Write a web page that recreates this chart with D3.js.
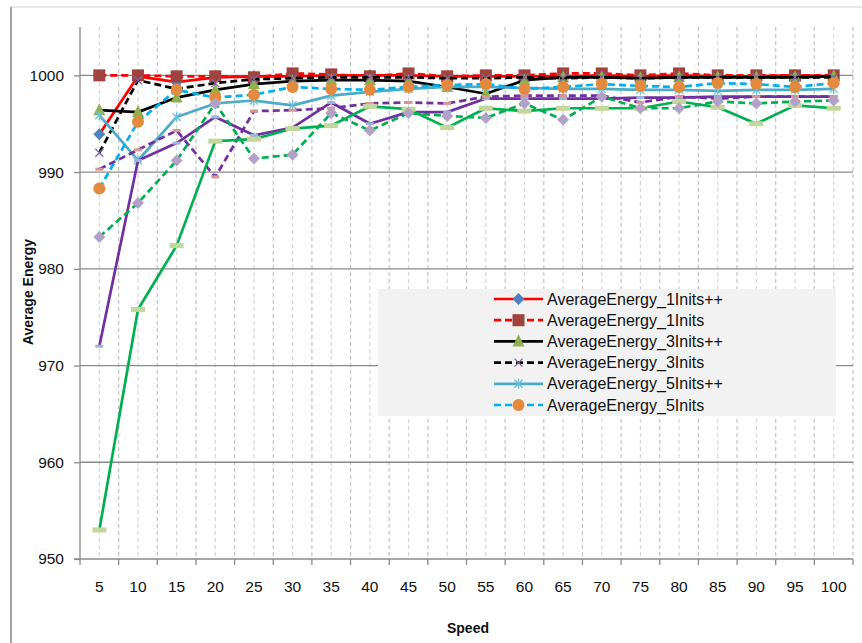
<!DOCTYPE html>
<html>
<head>
<meta charset="utf-8">
<script src="https://cdn.jsdelivr.net/npm/d3@7"></script>
<style>
  html, body { margin: 0; padding: 0; background: #fff; }
  svg { display: block; font-family: "Liberation Sans", Arial, sans-serif; }
</style>
</head>
<body>
<svg id="chart" width="862" height="643"></svg>
<script>
const categories = ["5","10","15","20","25","30","35","40","45","50","55","60","65","70","75","80","85","90","95","100"];
const yTicks = [950, 960, 970, 980, 990, 1000];

const energy1InitsPP = [993.9, 999.9, 999.3, 999.8, 999.9, 999.9, 1000, 1000, 1000, 999.9, 999.9, 999.9, 999.9, 1000, 999.9, 1000, 999.9, 999.9, 1000, 999.9];
const energy1Inits   = [1000, 1000, 999.9, 999.9, 999.8, 1000.2, 1000.1, 999.9, 1000.2, 999.9, 1000, 1000, 1000.2, 1000.2, 1000, 1000.2, 1000, 1000, 1000, 1000];
const energy3InitsPP = [996.4, 996.2, 997.7, 998.5, 999.1, 999.4, 999.5, 999.5, 999.4, 998.8, 998.1, 999.5, 999.8, 999.8, 999.7, 999.8, 999.8, 999.8, 999.8, 999.9];
const energy3Inits   = [992.0, 999.5, 998.6, 999.2, 999.6, 999.7, 999.8, 999.8, 999.8, 999.7, 999.7, 999.8, 999.7, 999.8, 999.7, 999.8, 999.8, 999.8, 999.8, 999.8];
const energy5InitsPP = [995.9, 991.2, 995.7, 997.1, 997.4, 996.9, 997.9, 998.3, 998.6, 998.8, 998.8, 998.7, 998.6, 998.6, 998.5, 998.5, 998.4, 998.5, 998.5, 998.6];
const energy5Inits   = [988.3, 995.2, 998.5, 997.7, 998.0, 998.8, 998.6, 998.5, 998.8, 999.0, 999.1, 998.6, 998.8, 999.1, 998.9, 998.8, 999.2, 999.1, 998.8, 999.2];
const energyPurpleSolid  = [972.0, 991.2, 993.0, 995.7, 993.8, 994.6, 997.2, 995.0, 996.2, 996.2, 997.6, 997.6, 997.6, 997.6, 997.7, 997.7, 997.8, 997.8, 997.8, 997.8];
const energyPurpleDashed = [990.3, 992.3, 994.3, 989.5, 996.3, 996.4, 996.6, 997.1, 997.2, 997.1, 997.8, 997.9, 997.9, 997.9, 997.2, 997.8, 997.6, 997.8, 997.8, 997.8];
const energyGreenSolid   = [953.0, 975.8, 982.4, 993.2, 993.4, 994.5, 994.8, 996.8, 996.5, 994.6, 996.6, 996.3, 996.6, 996.6, 996.6, 997.3, 996.7, 995.0, 996.9, 996.6];
const energyGreenDashed  = [983.3, 986.8, 991.2, 997.1, 991.4, 991.8, 996.1, 994.3, 996.1, 995.8, 995.6, 997.1, 995.4, 997.8, 996.6, 996.6, 997.3, 997.1, 997.3, 997.4];

const seriesNames = ["AverageEnergy_1Inits++", "AverageEnergy_1Inits", "AverageEnergy_3Inits++", "AverageEnergy_3Inits", "AverageEnergy_5Inits++", "AverageEnergy_5Inits", "", "", "", ""];

const series = [
  { name: seriesNames[0], values: energy1InitsPP, line: "#FF0000", dash: null, marker: "diamond", mcolor: "#4F81BD", legend: true },
  { name: seriesNames[1], values: energy1Inits, line: "#FF0000", dash: "7,4", marker: "square", mcolor: "#A0423E", legend: true },
  { name: seriesNames[2], values: energy3InitsPP, line: "#000000", dash: null, marker: "triangle", mcolor: "#8FB04E", legend: true },
  { name: seriesNames[3], values: energy3Inits, line: "#000000", dash: "7,4", marker: "x", mcolor: "#8064A2", legend: true },
  { name: seriesNames[4], values: energy5InitsPP, line: "#4BACC6", dash: null, marker: "star", mcolor: "#6FC0D8", legend: true },
  { name: seriesNames[5], values: energy5Inits, line: "#00B0F0", dash: "7,4", marker: "circle", mcolor: "#E38A3E", legend: true },
  { name: seriesNames[6], values: energyPurpleSolid, line: "#7030A0", dash: null, marker: "dash", mcolor: "#9BB7D4", legend: false },
  { name: seriesNames[7], values: energyPurpleDashed, line: "#7030A0", dash: "7,4", marker: "dash", mcolor: "#D99694", legend: false },
  { name: seriesNames[8], values: energyGreenSolid, line: "#00B050", dash: null, marker: "bar", mcolor: "#C3D69B", legend: false },
  { name: seriesNames[9], values: energyGreenDashed, line: "#00B050", dash: "7,4", marker: "diamond", mcolor: "#B3A2C7", legend: false }
];

const svg = d3.select("#chart");
const L = 80, R = 853, T = 27, B = 559;

const x = d3.scaleBand().domain(categories).range([L, R]).padding(0);
const y = d3.scaleLinear().domain([950, 1005]).range([B, T]);
const cx = c => x(c) + x.bandwidth() / 2;

// outer frame
svg.append("rect").attr("x", 11).attr("y", 7).attr("width", 880).attr("height", 660)
  .attr("fill", "none").attr("stroke", "#cfcfcf").attr("stroke-width", 1);
svg.append("line").attr("x1", 11).attr("x2", 11).attr("y1", 7).attr("y2", 643)
  .attr("stroke", "#a6a6a6").attr("stroke-width", 2);

// vertical dashed gridlines at category centers and boundaries
const g = svg.append("g");
categories.forEach((c, i) => {
  g.append("line").attr("x1", cx(c)).attr("x2", cx(c)).attr("y1", T).attr("y2", B)
    .attr("stroke", "#d6d6d6").attr("stroke-dasharray", "4,3").attr("stroke-width", 1.2);
  const bx = x(c) + x.bandwidth();
  g.append("line").attr("x1", bx).attr("x2", bx).attr("y1", T).attr("y2", B)
    .attr("stroke", "#c4c4c4").attr("stroke-dasharray", "4,3").attr("stroke-width", 1.2);
});

// horizontal gridlines
yTicks.filter(v => v > 950).forEach(v => {
  g.append("line").attr("x1", L).attr("x2", R).attr("y1", y(v)).attr("y2", y(v))
    .attr("stroke", "#8a8a8a").attr("stroke-width", 1.3);
});

// Y axis
const yAxis = d3.axisLeft(y).tickValues(yTicks).tickSize(6).tickPadding(10).tickFormat(d3.format("d"));
const ya = svg.append("g").attr("transform", `translate(${L},0)`).call(yAxis);
ya.select(".domain").attr("stroke", "#8a8a8a").attr("stroke-width", 1.3).attr("d", `M-6,${B}H0V${T}`);
ya.selectAll(".tick line").attr("stroke", "#8a8a8a").attr("stroke-width", 1.3);
ya.selectAll(".tick text").attr("font-size", 15.5).attr("fill", "#111").attr("font-family", "Liberation Sans, Arial, sans-serif");

// X axis
const xAxis = d3.axisBottom(x).tickSize(0).tickPadding(22);
const xa = svg.append("g").attr("transform", `translate(0,${B})`).call(xAxis);
xa.select(".domain").attr("stroke", "#8a8a8a").attr("stroke-width", 1.3).attr("d", `M${L},0H${R}`);
xa.selectAll(".tick text").attr("font-size", 15.5).attr("fill", "#111").attr("font-family", "Liberation Sans, Arial, sans-serif");
// boundary ticks
xa.selectAll(".bt").data([categories[0]].concat(categories)).enter().append("line")
  .attr("x1", (c, i) => i === 0 ? x(c) : x(c) + x.bandwidth())
  .attr("x2", (c, i) => i === 0 ? x(c) : x(c) + x.bandwidth())
  .attr("y1", 0).attr("y2", 6).attr("stroke", "#8a8a8a").attr("stroke-width", 1.3);

// axis titles
svg.append("text").attr("x", 468).attr("y", 633).attr("text-anchor", "middle")
  .attr("font-size", 14).attr("font-weight", "bold").attr("fill", "#111").text("Speed");
svg.append("text").attr("transform", "translate(33,292) rotate(-90)").attr("text-anchor", "middle")
  .attr("font-size", 14).attr("font-weight", "bold").attr("fill", "#111").text("Average Energy");

// markers
function drawMarker(sel, type, color, px, py) {
  switch (type) {
    case "diamond":
      sel.append("path").attr("d", `M${px},${py-6}L${px+6},${py}L${px},${py+6}L${px-6},${py}Z`).attr("fill", color); break;
    case "square":
      sel.append("rect").attr("x", px-6).attr("y", py-6).attr("width", 12).attr("height", 12).attr("fill", color); break;
    case "triangle":
      sel.append("path").attr("d", `M${px},${py-7}L${px+6},${py+5}L${px-6},${py+5}Z`).attr("fill", color); break;
    case "circle":
      sel.append("circle").attr("cx", px).attr("cy", py).attr("r", 6).attr("fill", color); break;
    case "x":
      sel.append("path").attr("d", `M${px-4},${py-4}L${px+4},${py+4}M${px+4},${py-4}L${px-4},${py+4}`)
        .attr("stroke", color).attr("stroke-width", 1.3).attr("fill", "none"); break;
    case "star":
      sel.append("path").attr("d", `M${px-4},${py-4}L${px+4},${py+4}M${px+4},${py-4}L${px-4},${py+4}M${px},${py-5}L${px},${py+5}`)
        .attr("stroke", color).attr("stroke-width", 1.3).attr("fill", "none"); break;
    case "dash":
      sel.append("rect").attr("x", px-4).attr("y", py-1.5).attr("width", 8).attr("height", 3).attr("fill", color); break;
    case "bar":
      sel.append("rect").attr("x", px-7).attr("y", py-2.5).attr("width", 14).attr("height", 5).attr("fill", color); break;
  }
}

const lineGen = d3.line().x((d, i) => cx(categories[i])).y(d => y(d));

series.forEach(s => {
  const sg = svg.append("g");
  sg.append("path").datum(s.values).attr("d", lineGen).attr("fill", "none")
    .attr("stroke", s.line).attr("stroke-width", 2.7).attr("stroke-dasharray", s.dash)
    .attr("stroke-linejoin", "round");
  s.values.forEach((v, i) => drawMarker(sg, s.marker, s.mcolor, cx(categories[i]), y(v)));
});

// legend
const legendItems = series.filter(s => s.legend);
const lg = svg.append("g");
lg.append("rect").attr("x", 378).attr("y", 289).attr("width", 458).attr("height", 127).attr("fill", "#F2F2F2");
legendItems.forEach((s, i) => {
  const ly = 299 + i * 21.2;
  lg.append("line").attr("x1", 494).attr("x2", 543).attr("y1", ly).attr("y2", ly)
    .attr("stroke", s.line).attr("stroke-width", 2.7).attr("stroke-dasharray", s.dash);
  drawMarker(lg, s.marker, s.mcolor, 518.5, ly);
  lg.append("text").attr("x", 547).attr("y", ly).attr("dy", "0.35em")
    .attr("font-size", 16).attr("fill", "#111").text(s.name);
});
</script>
</body>
</html>
